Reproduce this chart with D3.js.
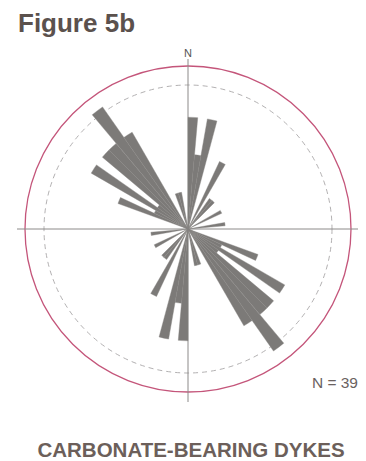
<!DOCTYPE html>
<html>
<head>
<meta charset="utf-8">
<script src="https://cdn.jsdelivr.net/npm/d3@7"></script>
<style>
  html, body { margin: 0; padding: 0; background: #ffffff; }
  svg { display: block; }
</style>
</head>
<body>
<div id="chart"></div>
<script>
// ---- data (axial rose, 5-degree bins, 0-180 mirrored to 180-360) ----
const title = "Figure 5b";
const caption = "CARBONATE-BEARING DYKES";
const northLabel = "N";
const sampleLabel = "N = 39";
const binWidth = 5;
const binStarts = [0, 5, 10, 25, 35, 40, 60, 80, 110, 115, 120, 125, 130, 135, 140, 145, 160, 165];
const counts    = [3, 2, 3, 2, 1, 1, 1, 1, 2, 1, 3, 1, 3, 3, 4, 3, 1, 1];

// ---- layout ----
const W = 366, H = 461;
const cx = 188, cy = 229;
const outerR = 163, refR = 144;

const svg = d3.select("#chart").append("svg")
  .attr("width", W).attr("height", H);

svg.append("text")
  .attr("x", 18).attr("y", 32)
  .attr("font-family", "Liberation Sans, Arial, sans-serif")
  .attr("font-weight", "bold").attr("font-size", 26)
  .attr("fill", "#5b514d")
  .text(title);

const g = svg.append("g").attr("transform", `translate(${cx},${cy})`);

const r = d3.scaleLinear().domain([0, 4]).range([0, 149]);
const toRad = d => d * Math.PI / 180;

// outer circle
g.append("circle").attr("r", outerR)
  .attr("fill", "none").attr("stroke", "#c4557a").attr("stroke-width", 1.3);
// reference dashed circle
g.append("circle").attr("r", refR)
  .attr("fill", "none").attr("stroke", "#a9a7a8").attr("stroke-width", 0.9)
  .attr("stroke-dasharray", "5,4");

// axes
g.append("line").attr("x1", -171).attr("x2", 170).attr("y1", 0).attr("y2", 0)
  .attr("stroke", "#8c8a89").attr("stroke-width", 1);
g.append("line").attr("x1", 0).attr("x2", 0).attr("y1", -170).attr("y2", 173)
  .attr("stroke", "#8c8a89").attr("stroke-width", 1);

// petals
const petals = [];
binStarts.forEach((b, i) => {
  petals.push({ start: b, value: counts[i] });
  petals.push({ start: b + 180, value: counts[i] });
});

const arc = d3.arc()
  .innerRadius(0)
  .outerRadius(d => r(d.value))
  .startAngle(d => toRad(d.start))
  .endAngle(d => toRad(d.start + binWidth));

g.selectAll("path.petal").data(petals).join("path")
  .attr("class", "petal")
  .attr("d", arc)
  .attr("fill", "#7c7a78")
  .attr("stroke", "#858381")
  .attr("stroke-width", 0.4);

// north label
svg.append("text")
  .attr("x", cx).attr("y", 57)
  .attr("text-anchor", "middle")
  .attr("font-family", "Liberation Sans, Arial, sans-serif")
  .attr("font-size", 11).attr("fill", "#555")
  .text(northLabel);

// sample size
svg.append("text")
  .attr("x", 358).attr("y", 388)
  .attr("text-anchor", "end")
  .attr("font-family", "Liberation Sans, Arial, sans-serif")
  .attr("font-size", 15.5).attr("fill", "#6a625f")
  .text(sampleLabel);

// caption
svg.append("text")
  .attr("x", 191).attr("y", 457)
  .attr("text-anchor", "middle")
  .attr("font-family", "Liberation Sans, Arial, sans-serif")
  .attr("font-weight", "bold").attr("font-size", 20.5)
  .attr("fill", "#6c5f5a")
  .text(caption);
</script>
</body>
</html>
